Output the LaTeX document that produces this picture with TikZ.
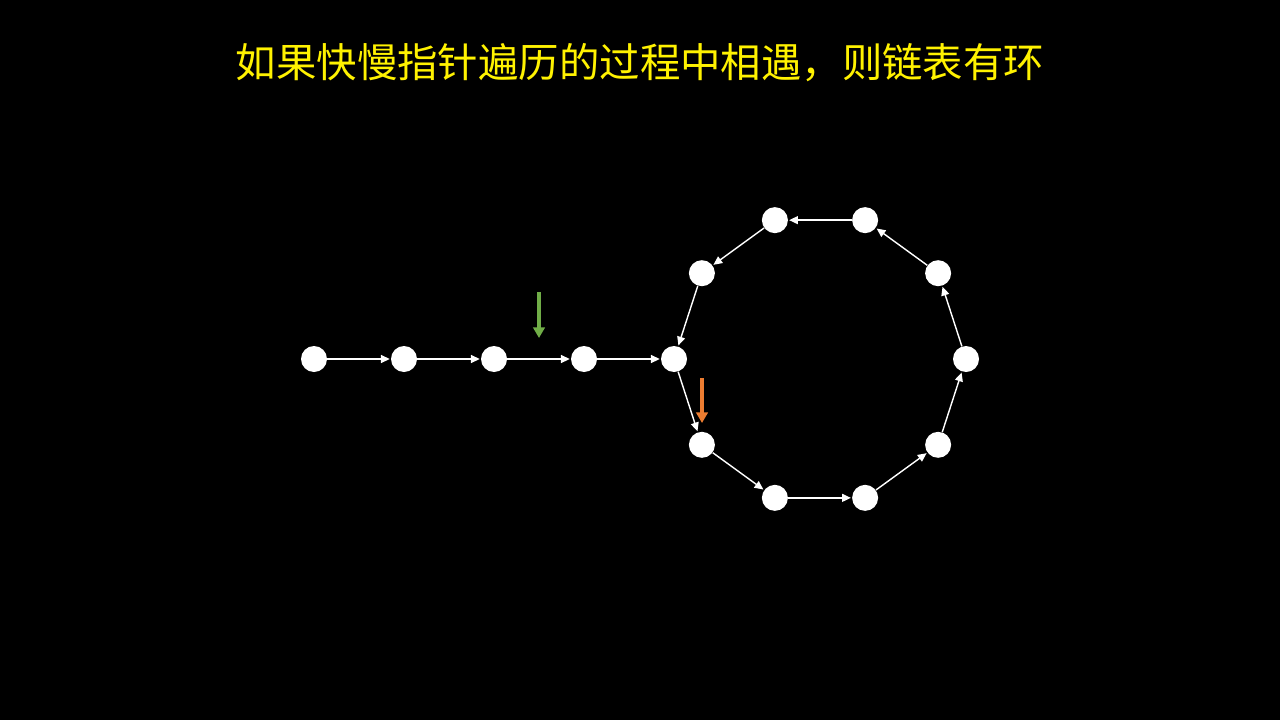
\documentclass[tikz,border=0pt]{standalone}
\usepackage{fontspec}
\newfontfamily\cjkfont{Noto Sans CJK SC}
\usetikzlibrary{arrows.meta}
\definecolor{fastorange}{HTML}{ED7D31}
\definecolor{slowgreen}{HTML}{70AD47}

\begin{document}
\begin{tikzpicture}[x=0.02cm, y=-0.02cm,
        listnode/.style={circle, fill=white, minimum size=0.52cm, inner sep=0pt},
        link/.style={white, line width=0.8pt, -{Triangle[length=5pt, width=4.5pt]}, shorten >=0.5pt},
        pointer/.style={line width=2pt, -{Triangle[length=6pt, width=6.5pt]}}]
        % Background
        \fill[black] (0,0) rectangle (1280,720);

        % Title
        \node[text=yellow, font=\cjkfont\fontsize{23}{27}\selectfont] (title) at (640,63) {如果快慢指针遍历的过程中相遇，则链表有环};

        % Straight part of the list
        \foreach \i/\x in {1/314, 2/404, 3/494, 4/584, 5/674}
            \node[listnode] (n\i) at (\x,359) {};

        % Nodes of the ring
        \foreach \i in {1,...,9}
            \node[listnode] (c\i) at ({820+146*cos(180-36*\i)}, {359+146*sin(180-36*\i)}) {};

        % Links
        \foreach \a/\b in {n1/n2, n2/n3, n3/n4, n4/n5, n5/c1, c1/c2, c2/c3, c3/c4, c4/c5, c5/c6, c6/c7, c7/c8, c8/c9, c9/n5}
            \draw[link] (\a) -- (\b);

        % Slow and fast pointers
        \coordinate (slowtop) at (539,292);
        \coordinate (slowtip) at (539,338);
        \coordinate (fasttop) at (702,378);
        \coordinate (fasttip) at (702,423);
        \draw[pointer, slowgreen] (slowtop) -- (slowtip);
        \draw[pointer, fastorange] (fasttop) -- (fasttip);

\end{tikzpicture}
\end{document}
